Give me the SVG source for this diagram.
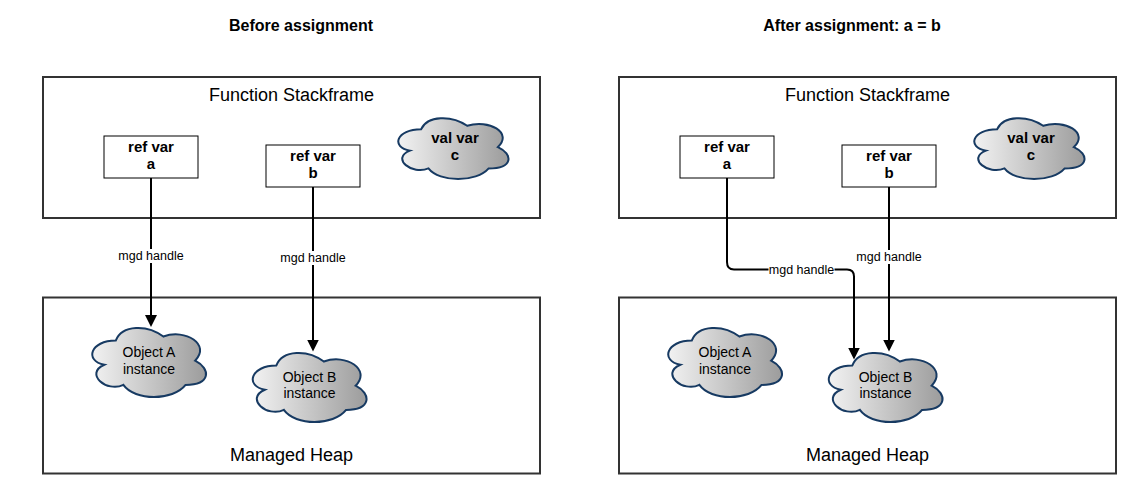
<svg xmlns="http://www.w3.org/2000/svg" width="1141" height="493" viewBox="0 0 1141 493">
<defs>
<style>
.frame{fill:#fff;stroke:#333;stroke-width:2}
.box{fill:#fff;stroke:#000;stroke-width:1}
.cloud{fill:url(#cg);stroke:#173a62;stroke-width:2}
.conn{fill:none;stroke:#000;stroke-width:2;marker-end:url(#arr)}
.title{font-family:"Liberation Sans",Arial,sans-serif;font-size:16px;font-weight:bold;text-anchor:middle;fill:#000}
.flab{font-family:"Liberation Sans",Arial,sans-serif;font-size:18px;text-anchor:middle;fill:#000}
.bold{font-family:"Liberation Sans",Arial,sans-serif;font-size:15px;font-weight:bold;text-anchor:middle;fill:#000}
.reg{font-family:"Liberation Sans",Arial,sans-serif;font-size:14px;text-anchor:middle;fill:#000}
.elab{font-family:"Liberation Sans",Arial,sans-serif;font-size:12.5px;text-anchor:middle;fill:#000}
.lbg{fill:#fff}
</style>
<linearGradient id="cg" x1="0" y1="0" x2="1" y2="0">
<stop offset="0" stop-color="#f2f2f2"/>
<stop offset="1" stop-color="#9c9c9c"/>
</linearGradient>
<marker id="arr" markerWidth="13" markerHeight="13" refX="0.5" refY="6" orient="auto" markerUnits="userSpaceOnUse">
<path d="M0,0 L12,6 L0,12 Z" fill="#000"/>
</marker>
<path id="cl" vector-effect="non-scaling-stroke" d="M25 25 C5 25 0 50 16 55 C0 66 18 90 31 80 C40 100 70 100 80 80 C100 80 100 60 87.5 50 C100 30 80 10 62.5 20 C50 5 30 5 25 25 Z"/>
</defs>

<text class="title" x="301" y="31">Before assignment</text>
<text class="title" x="852" y="31">After assignment: a = b</text>

<!-- Left panel -->
<g id="stack-left">
<rect class="frame" x="43" y="77" width="497" height="141"/>
<text class="flab" x="291.5" y="101">Function Stackframe</text>
</g>
<g id="heap-left">
<rect class="frame" x="43" y="297.5" width="497" height="176"/>
<text class="flab" x="291.5" y="461">Managed Heap</text>
</g>
<g id="refa-left">
<rect class="box" x="104" y="136" width="94" height="42"/>
<text class="bold" x="151" y="152">ref var</text>
<text class="bold" x="151" y="169">a</text>
</g>
<g id="refb-left">
<rect class="box" x="266" y="145" width="94" height="42"/>
<text class="bold" x="313" y="161">ref var</text>
<text class="bold" x="313" y="178">b</text>
</g>
<g id="valc-left">
<use href="#cl" class="cloud" transform="translate(390.3,111.6) scale(1.23,0.71)"/>
<text class="bold" x="455" y="143">val var</text>
<text class="bold" x="455" y="160">c</text>
</g>
<g id="objA-left">
<use href="#cl" class="cloud" transform="translate(84,320.4) scale(1.27,0.806)"/>
<text class="reg" x="149" y="357">Object A</text>
<text class="reg" x="149" y="373.5">instance</text>
</g>
<g id="objB-left">
<use href="#cl" class="cloud" transform="translate(244.5,345.4) scale(1.27,0.806)"/>
<text class="reg" x="309.5" y="382">Object B</text>
<text class="reg" x="309.5" y="398">instance</text>
</g>

<!-- Right panel -->
<g id="stack-right">
<rect class="frame" x="619" y="77" width="497" height="141"/>
<text class="flab" x="867.5" y="101">Function Stackframe</text>
</g>
<g id="heap-right">
<rect class="frame" x="619" y="297.5" width="497" height="176"/>
<text class="flab" x="867.5" y="461">Managed Heap</text>
</g>
<g id="refa-right">
<rect class="box" x="680" y="136" width="94" height="42"/>
<text class="bold" x="727" y="152">ref var</text>
<text class="bold" x="727" y="169">a</text>
</g>
<g id="refb-right">
<rect class="box" x="842" y="145" width="94" height="42"/>
<text class="bold" x="889" y="161">ref var</text>
<text class="bold" x="889" y="178">b</text>
</g>
<g id="valc-right">
<use href="#cl" class="cloud" transform="translate(966.3,111.6) scale(1.23,0.71)"/>
<text class="bold" x="1031" y="143">val var</text>
<text class="bold" x="1031" y="160">c</text>
</g>
<g id="objA-right">
<use href="#cl" class="cloud" transform="translate(660,320.4) scale(1.27,0.806)"/>
<text class="reg" x="725" y="357">Object A</text>
<text class="reg" x="725" y="373.5">instance</text>
</g>
<g id="objB-right">
<use href="#cl" class="cloud" transform="translate(820.5,345.4) scale(1.27,0.806)"/>
<text class="reg" x="885.5" y="382">Object B</text>
<text class="reg" x="885.5" y="398">instance</text>
</g>

<!-- Connectors -->
<g id="connectors">
<path class="conn" d="M151 178 V315.5"/>
<rect class="lbg" x="118" y="249" width="66" height="14"/>
<text class="elab" x="151" y="260">mgd handle</text>

<path class="conn" d="M313 187 V340"/>
<rect class="lbg" x="280" y="251" width="66" height="14"/>
<text class="elab" x="313" y="262">mgd handle</text>

<path class="conn" d="M727 178 V262 Q727 269.5 734 269.5 H847 Q854 269.5 854 276.5 V348"/>
<rect class="lbg" x="768.5" y="262.5" width="66" height="14"/>
<text class="elab" x="801.5" y="273.5">mgd handle</text>

<path class="conn" d="M889 187 V340"/>
<rect class="lbg" x="856" y="250" width="66" height="14"/>
<text class="elab" x="889" y="261">mgd handle</text>
</g>
</svg>
